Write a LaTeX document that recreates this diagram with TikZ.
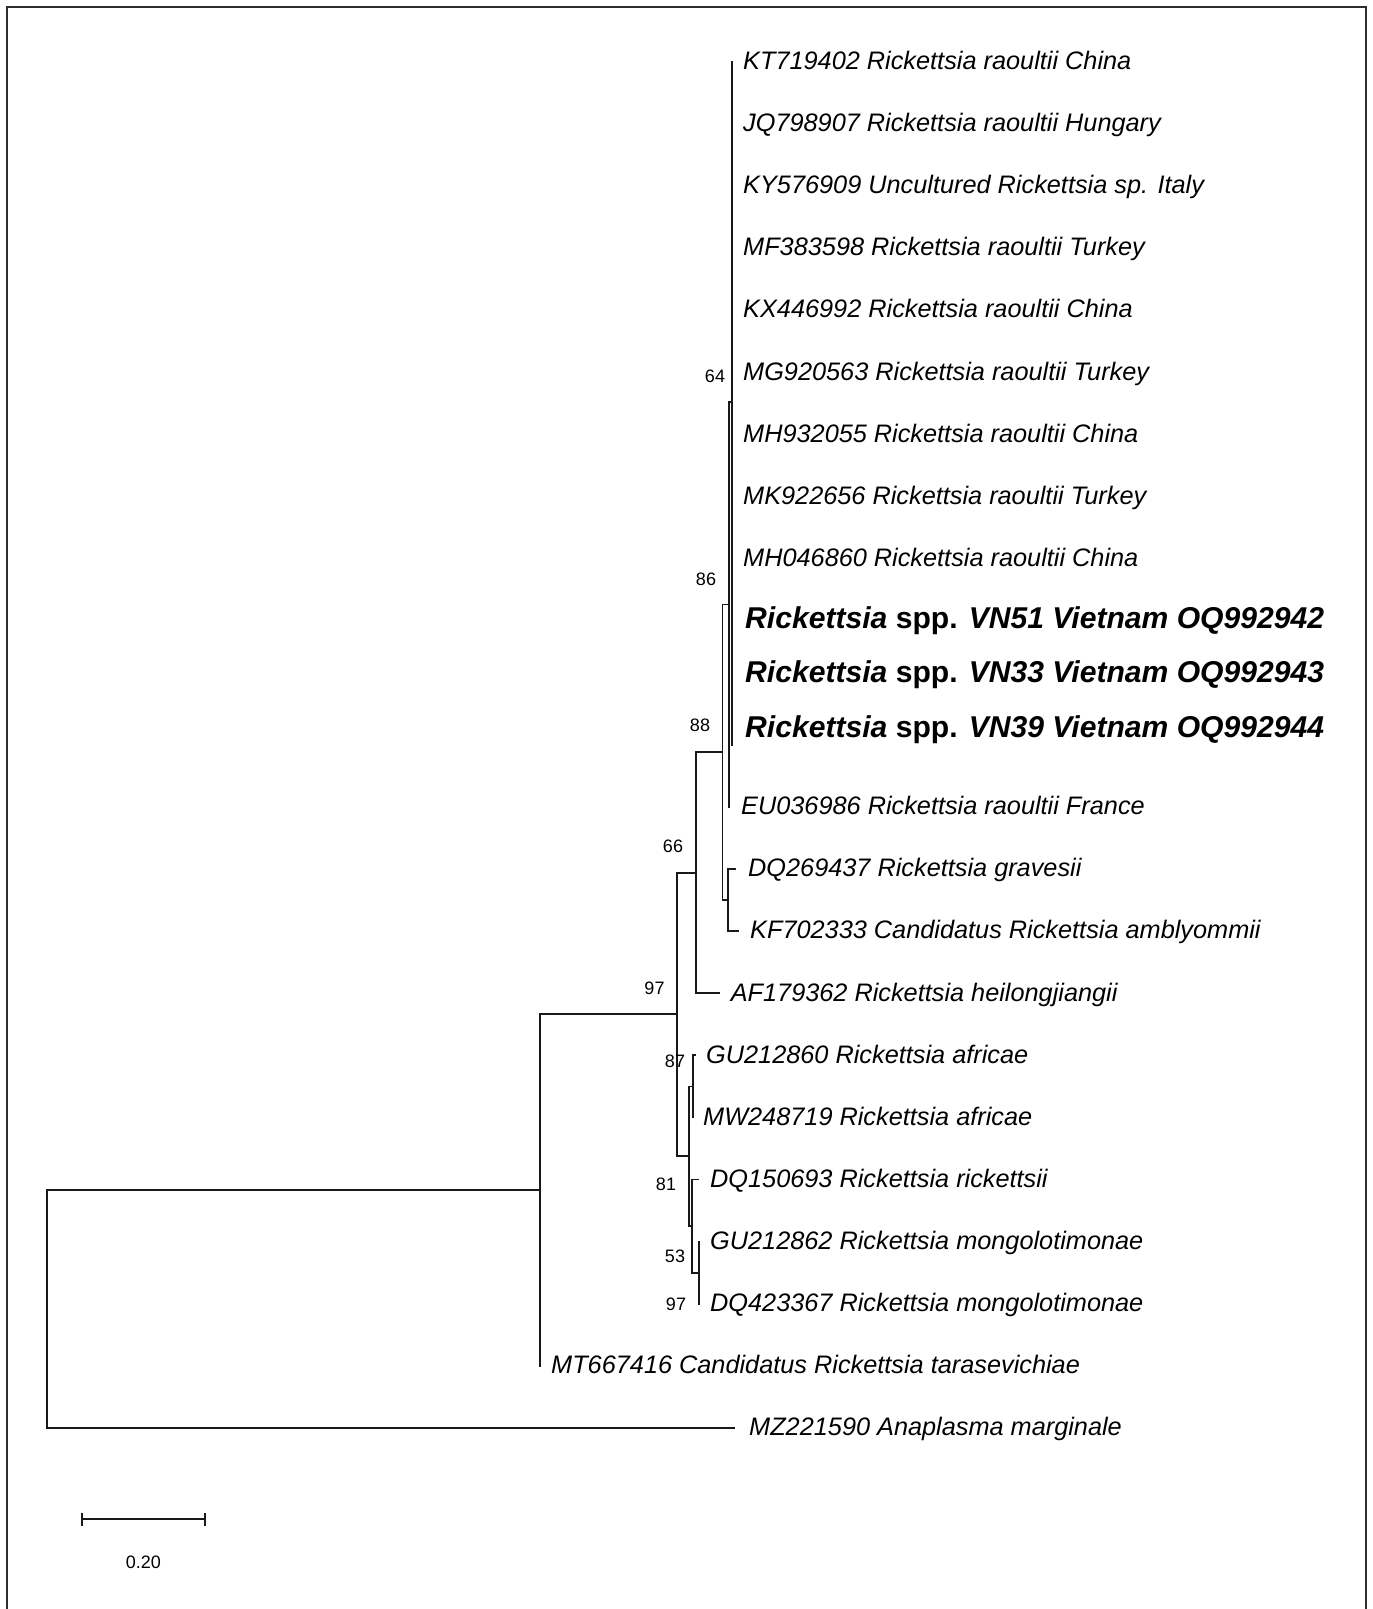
\documentclass[tikz,border=0pt]{standalone}
\usepackage{fontspec}
\setmainfont{Liberation Sans}
\begin{document}
\begin{tikzpicture}[x=1pt,y=-1pt,
  br/.style={line width=1.8pt, line cap=rect, line join=miter, black!90},
  tip/.style={anchor=base west, inner sep=0pt, font=\fontsize{25.3}{30}\selectfont\itshape},
  boldtip/.style={anchor=base west, inner sep=0pt, font=\fontsize{30.1}{36}\selectfont\bfseries\itshape},
  boot/.style={anchor=center, inner sep=0pt, font=\fontsize{18}{22}\selectfont},
  frame/.style={line width=2.2pt, black!82}]
\useasboundingbox (0,0) rectangle (1373,1609);
\fill[white] (0,0) rectangle (1373,1609);
\draw[frame] (6.7,1609) -- (6.7,6.7) -- (1365.7,6.7) -- (1365.7,1609);

% internal nodes
\coordinate (nA) at (731.7,402.2);
\coordinate (nB) at (729.0,604.5);
\coordinate (nD) at (728.3,900.0);
\coordinate (nC) at (722.5,752.3);
\coordinate (nE) at (696.0,872.7);
\coordinate (nF) at (676.7,1014.3);
\coordinate (nI) at (693.0,1086.4);
\coordinate (nK) at (699.3,1272.7);
\coordinate (nJ) at (691.7,1226.1);
\coordinate (nH) at (689.3,1156.3);
\coordinate (nG) at (539.8,1190.0);
\coordinate (nR) at (47.2,1309.0);

% tips
\coordinate (t0) at (731.7,61.7);
\coordinate (t1) at (731.7,123.8);
\coordinate (t2) at (731.7,185.9);
\coordinate (t3) at (731.7,248.0);
\coordinate (t4) at (731.7,310.1);
\coordinate (t5) at (731.7,372.2);
\coordinate (t6) at (731.7,434.3);
\coordinate (t7) at (731.7,496.4);
\coordinate (t8) at (731.7,558.5);
\coordinate (t9) at (731.7,620.6);
\coordinate (t10) at (731.7,682.7);
\coordinate (t11) at (731.7,744.8);
\coordinate (t12) at (729.0,806.9);
\coordinate (t13) at (735.0,869.0);
\coordinate (t14) at (738.0,931.1);
\coordinate (t15) at (719.0,993.2);
\coordinate (t16) at (695.0,1055.3);
\coordinate (t17) at (693.5,1117.4);
\coordinate (t18) at (698.3,1179.5);
\coordinate (t19) at (699.5,1241.6);
\coordinate (t20) at (699.5,1303.7);
\coordinate (t21) at (539.8,1365.8);
\coordinate (t22) at (733.7,1427.9);

% branches
\draw[br] (nR) |- (nG);
\draw[br] (nR) |- (t22);
\draw[br] (nG) |- (nF);
\draw[br] (nG) |- (t21);
\draw[br] (nF) |- (nE);
\draw[br] (nF) |- (nH);
\draw[br] (nE) |- (nC);
\draw[br] (nE) |- (t15);
\draw[br] (nC) |- (nB);
\draw[br] (nC) |- (nD);
\draw[br] (nB) |- (nA);
\draw[br] (nB) |- (t12);
\foreach \i in {0,...,11} { \draw[br] (nA) |- (t\i); }
\draw[br] (nD) |- (t13);
\draw[br] (nD) |- (t14);
\draw[br] (nH) |- (nI);
\draw[br] (nH) |- (nJ);
\draw[br] (nI) |- (t16);
\draw[br] (nI) |- (t17);
\draw[br] (nJ) |- (t18);
\draw[br] (nJ) |- (nK);
\draw[br] (nK) |- (t19);
\draw[br] (nK) |- (t20);

% tip labels
\node[tip] (l0) at (743,69.5) {KT719402 Rickettsia raoultii China};
\node[tip] (l1) at (743,131.6) {JQ798907 Rickettsia raoultii Hungary};
\node[tip] (l2) at (743,193.7) {KY576909 Uncultured Rickettsia sp. Italy};
\node[tip] (l3) at (743,255.8) {MF383598 Rickettsia raoultii Turkey};
\node[tip] (l4) at (743,317.9) {KX446992 Rickettsia raoultii China};
\node[tip] (l5) at (743,380.0) {MG920563 Rickettsia raoultii Turkey};
\node[tip] (l6) at (743,442.1) {MH932055 Rickettsia raoultii China};
\node[tip] (l7) at (743,504.2) {MK922656 Rickettsia raoultii Turkey};
\node[tip] (l8) at (743,566.3) {MH046860 Rickettsia raoultii China};
\node[boldtip] (l9) at (745,628.5) {Rickettsia \upshape spp. \itshape VN51 Vietnam OQ992942};
\node[boldtip] (l10) at (745,682.9) {Rickettsia \upshape spp. \itshape VN33 Vietnam OQ992943};
\node[boldtip] (l11) at (745,737.3) {Rickettsia \upshape spp. \itshape VN39 Vietnam OQ992944};
\node[tip] (l12) at (741,814.7) {EU036986 Rickettsia raoultii France};
\node[tip] (l13) at (748,876.8) {DQ269437 Rickettsia gravesii};
\node[tip] (l14) at (750,938.9) {KF702333 Candidatus Rickettsia amblyommii};
\node[tip] (l15) at (730.6,1001.0) {AF179362 Rickettsia heilongjiangii};
\node[tip] (l16) at (706,1063.1) {GU212860 Rickettsia africae};
\node[tip] (l17) at (703,1125.2) {MW248719 Rickettsia africae};
\node[tip] (l18) at (710,1187.3) {DQ150693 Rickettsia rickettsii};
\node[tip] (l19) at (710,1249.4) {GU212862 Rickettsia mongolotimonae};
\node[tip] (l20) at (710,1311.5) {DQ423367 Rickettsia mongolotimonae};
\node[tip] (l21) at (551,1373.6) {MT667416 Candidatus Rickettsia tarasevichiae};
\node[tip] (l22) at (749,1435.7) {MZ221590 Anaplasma marginale};

% bootstrap values
\node[boot] (b1) at (715,376.5) {64};
\node[boot] (b2) at (706,579) {86};
\node[boot] (b3) at (700,725.5) {88};
\node[boot] (b4) at (673,846.7) {66};
\node[boot] (b5) at (654.5,988) {97};
\node[boot] (b6) at (675,1061) {87};
\node[boot] (b7) at (666,1184) {81};
\node[boot] (b8) at (675,1256.7) {53};
\node[boot] (b9) at (676,1304) {97};

% scale bar
\coordinate (s1) at (82.3,1519.3);
\coordinate (s2) at (205,1519.3);
\draw[br, line cap=butt] (s1) -- (s2);
\draw[br, line cap=butt] ([yshift=-6.7pt]s1) -- ([yshift=6.7pt]s1);
\draw[br, line cap=butt] ([yshift=-6.7pt]s2) -- ([yshift=6.7pt]s2);
\node[boot] (sl) at (143.3,1562.7) {0.20};
\end{tikzpicture}
\end{document}
